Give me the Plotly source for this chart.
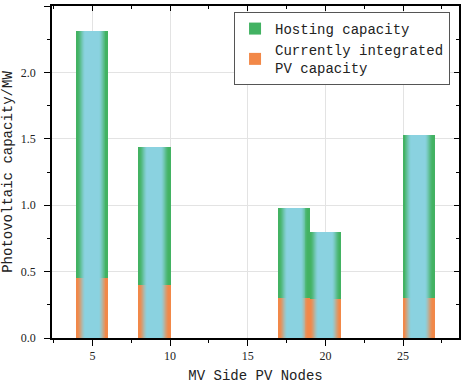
import numpy as np
import plotly.graph_objects as go

# ---- data ----
nodes = [5, 9, 18, 20, 26]
hosting_capacity = [2.31, 1.44, 0.98, 0.80, 1.53]
integrated_pv = [0.45, 0.40, 0.30, 0.29, 0.30]
series_names = ["Hosting capacity", "Currently integrated<br>PV capacity"]
x_ticks = [5, 10, 15, 20, 25]

# ---- style ----
BAR_W = 2.0
N = 32
GREEN = np.array([66, 178, 98])
ORANGE = np.array([242, 136, 72])
BLUE = np.array([138, 210, 224])
FONT = "Liberation Mono"
TICKFONT = "Liberation Serif"


def mix(edge, t):
    # t: 0 at bar centre, 1 at bar edge
    s = np.clip((t - 0.40) / (0.95 - 0.40), 0, 1)
    s = s * s * (3 - 2 * s)
    c = BLUE * (1 - s) + edge * s
    return "rgb(%d,%d,%d)" % tuple(int(round(v)) for v in c)


fig = go.Figure()
w = BAR_W / N
for vals, edge, name in [(hosting_capacity, GREEN, series_names[0]),
                         (integrated_pv, ORANGE, series_names[1])]:
    for i in range(N):
        off = -BAR_W / 2 + i * w
        width = min(w * 1.5, BAR_W / 2 - off)
        t = abs((i + 0.5) / N - 0.5) * 2
        fig.add_trace(go.Bar(
            x=nodes, y=vals, offset=off, width=width,
            marker=dict(color=mix(edge, t), line=dict(width=0)),
            name=name, legendgroup=name,
            showlegend=False, hoverinfo="skip",
        ))
    fig.add_trace(go.Bar(
        x=[None], y=[None], name=name, legendgroup=name,
        marker=dict(color="rgb(%d,%d,%d)" % tuple(edge), line=dict(width=0)),
        showlegend=True,
    ))

# dummy trace for mirrored axes
fig.add_trace(go.Scatter(x=[None], y=[None], xaxis="x2", yaxis="y2", showlegend=False))

XR = [2.4, 28.6]
YR = [0, 2.5]
axis_common = dict(showline=True, linecolor="black", linewidth=1.5, zeroline=False,
                   tickcolor="black", tickwidth=1.2)

fig.update_layout(
    width=463, height=385,
    margin=dict(l=52, r=4, t=6, b=47),
    paper_bgcolor="white", plot_bgcolor="white",
    barmode="overlay", bargap=0,
    font=dict(family=FONT, size=14, color="#222"),
    showlegend=True,
    legend=dict(x=0.978, y=0.982, xanchor="right", yanchor="top",
                bgcolor="white", bordercolor="#555", borderwidth=1,
                font=dict(family=FONT, size=14, color="#222"),
                tracegroupgap=0, itemwidth=30),
    xaxis=dict(range=XR, tickvals=x_ticks, ticks="outside", ticklen=6,
               minor=dict(dtick=2.5, tick0=0, ticks="outside", ticklen=3, tickcolor="black", showgrid=False),
               showgrid=True, gridcolor="#e3e3e3", gridwidth=1,
               tickfont=dict(family=TICKFONT, size=12, color="#222"),
               title=dict(text="MV Side PV Nodes", font=dict(family=FONT, size=14), standoff=8),
               **axis_common),
    yaxis=dict(range=YR, dtick=0.5, tick0=0, tickformat=".1f", ticks="outside", ticklen=6,
               minor=dict(dtick=0.25, tick0=0, ticks="outside", ticklen=3, tickcolor="black", showgrid=False),
               showgrid=True, gridcolor="#e3e3e3", gridwidth=1,
               tickfont=dict(family=TICKFONT, size=12, color="#222"),
               ticklabelstandoff=6,
               title=dict(text="Photovoltaic capacity/MW", font=dict(family=FONT, size=14), standoff=6),
               **axis_common),
    xaxis2=dict(range=XR, overlaying="x", side="top", tickvals=x_ticks, ticks="inside", ticklen=5,
                minor=dict(dtick=2.5, tick0=0, ticks="inside", ticklen=3, tickcolor="black"),
                showticklabels=False, showgrid=False, **axis_common),
    yaxis2=dict(range=YR, overlaying="y", side="right", dtick=0.5, tick0=0, ticks="inside", ticklen=5,
                minor=dict(dtick=0.25, tick0=0, ticks="inside", ticklen=3, tickcolor="black"),
                showticklabels=False, showgrid=False, **axis_common),
)

fig.write_html("out.html")
